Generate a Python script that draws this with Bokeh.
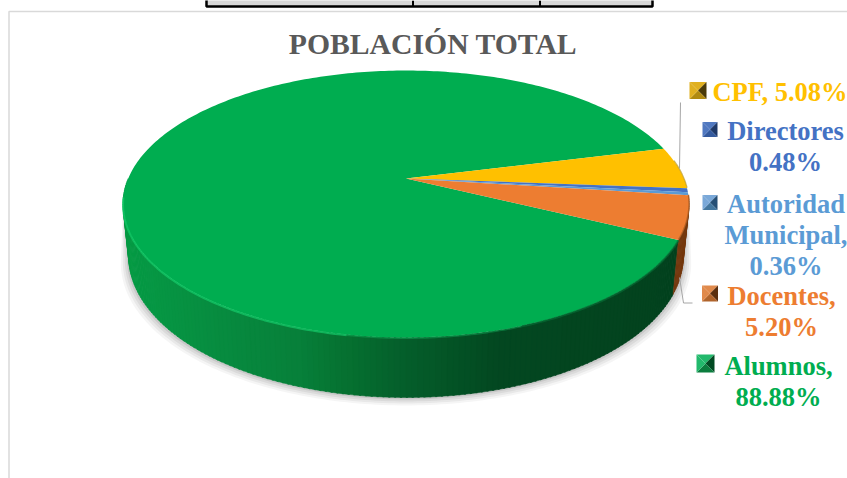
import math
from bokeh.plotting import figure
from bokeh.models import Range1d
from bokeh.embed import file_html
from bokeh.resources import INLINE
from bokeh.core.properties import value

categories = ["Alumnos", "CPF", "Directores", "Autoridad Municipal", "Docentes"]
values = [88.88, 5.08, 0.48, 0.36, 5.20]
colors = ["#00AD50", "#FFC000", "#4472C4", "#5B9BD5", "#ED7D31"]
side_dark = {"#ED7D31": "#74390F", "#FFC000": "#8A6A00", "#4472C4": "#2A4A80", "#5B9BD5": "#3A6A96"}
labels = [["Alumnos,", "88.88%"], ["CPF, 5.08%"], ["Directores", "0.48%"],
          ["Autoridad", "Municipal,", "0.36%"], ["Docentes,", "5.20%"]]
label_x = [778, 779.5, 785, 785.5, 781]
label_y = [365, 91, 130, 203, 295]
key_x = [705, 697.5, 709.5, 709.5, 709.5]
key_y = [363, 90, 129, 202, 293]
key_half = [9, 8.5, 7.5, 7.5, 8]
title_text = "POBLACIÓN TOTAL"

W, H = 847, 478
CX, CY, A, B, K, DEPTH = 405.5, 178.0, 277.8, 128.6, 0.191, 50.0
START = 14.0


def proj(t_deg, drop=0.0, grow=0.0):
    t = math.radians(t_deg)
    u, v = math.cos(t), math.sin(t)
    d = 1 + K * v
    x = CX + A * u / d
    y = CY - B * v / d + drop * (1 - 0.2 * v)
    x = CX + (x - CX) * (1 - 0.02 * drop / DEPTH) + grow * u
    return x, y + grow


def arc(a0, a1, drop=0.0, grow=0.0):
    n = max(2, int(abs(a1 - a0)) + 1)
    return [proj(a0 + (a1 - a0) * i / (n - 1), drop, grow) for i in range(n)]


def draw_patch(pts, **kw):
    p.patch([x for x, _ in pts], [y for _, y in pts], **kw)


def draw_line(pts, **kw):
    p.line([x for x, _ in pts], [y for _, y in pts], **kw)


p = figure(width=W, height=H, output_backend="svg", toolbar_location=None,
           x_range=Range1d(0, W), y_range=Range1d(H, 0), min_border=0,
           outline_line_color=None, styles={"position": "absolute", "left": "0px", "top": "0px"})
p.axis.visible = False
p.grid.visible = False
p.background_fill_color = "white"
p.border_fill_color = "white"

# chart frame and the table cut off above it
p.line([8.5, 8.5, 847], [478, 11, 11], line_color="#D9D9D9", line_width=1.5)
p.quad(left=[206], right=[652], top=[-3], bottom=[6], fill_color="#D9D9D9", line_color="#000000", line_width=2.5)
p.line([412.5, 412.5], [0, 6], line_color="#000000", line_width=2)
p.line([539.5, 539.5], [0, 6], line_color="#000000", line_width=2)

# soft shadow under the disc
for grow, alpha in [(8, 0.04), (6, 0.05), (4, 0.06), (2, 0.08)]:
    draw_patch(arc(190, 350, DEPTH, grow) + arc(350, 190, 0, 0), fill_color="#000000", fill_alpha=alpha, line_color=None)

# wedge angles follow from the values, clockwise from the start angle
total = sum(values)
bounds = {}
a = START
for i in [1, 2, 3, 4, 0]:
    b = a - 360.0 * values[i] / total
    bounds[i] = (a, b)
    a = b

GREEN_STOPS = [(122, (6, 156, 70)), (230, (8, 138, 63)), (300, (7, 128, 58)), (350, (6, 112, 48)),
               (400, (5, 96, 44)), (450, (4, 84, 38)), (500, (3, 72, 33)), (690, (3, 66, 30))]


def green_shade(x):
    for (x0, c0), (x1, c1) in zip(GREEN_STOPS, GREEN_STOPS[1:]):
        if x <= x1:
            f = max(0.0, (x - x0) / (x1 - x0))
            return "#%02x%02x%02x" % tuple(int(c0[j] + (c1[j] - c0[j]) * f) for j in range(3))
    return "#%02x%02x%02x" % GREEN_STOPS[-1][1]


# side wall in narrow strips: green part first, then the orange piece at its right
doc_end = bounds[4][1]
for lo, hi, idx in [(-180.0, doc_end, 0), (doc_end, bounds[4][0], 4)]:
    t = lo
    while t < hi:
        t2 = min(t + 1.3, hi)
        x0, y0 = proj(t)
        x1, y1 = proj(t2)
        x2, y2 = proj(t2, DEPTH)
        x3, y3 = proj(t, DEPTH)
        col = green_shade((x0 + x1) / 2) if idx == 0 else side_dark[colors[idx]]
        p.patch([x0, x1, x2, x3], [y0, y1, y2, y3], fill_color=col, line_color=col, line_width=0.5)
        t += 1.0

# top faces
for i in [0, 1, 2, 3, 4]:
    a0, b0 = bounds[i]
    draw_patch([(CX, CY)] + arc(a0, b0), fill_color=colors[i], line_color=None)

# rim: bright bevel on the left, soft transition on the right
draw_line(arc(-172, -100, 0.6), line_color="#14CC6A", line_width=2, line_alpha=0.7)
draw_line(arc(-100, -70, 0.6), line_color="#14CC6A", line_width=1.5, line_alpha=0.35)
draw_line(arc(-70, doc_end, 0.5), line_color="#056B33", line_width=2, line_alpha=0.7)
draw_line(arc(doc_end, bounds[4][0], -0.5), line_color="#A85A20", line_width=1.5, line_alpha=0.7)
draw_line(arc(bounds[1][0] - 6, bounds[1][1], -0.5), line_color="#B08800", line_width=1.2, line_alpha=0.6)

# leader lines
p.line([680, 679], [102, 168], line_color="#A6A6A6", line_width=1)
p.line([679, 683, 692], [277, 302.5, 302.5], line_color="#A6A6A6", line_width=1)

# title
p.text([432.5], [43.5], text=[title_text], text_font=value("Liberation Serif"), text_font_style="bold",
       text_font_size="29.7px", text_color="#595959", text_align="center", text_baseline="middle")

# legend keys and data labels
KEY_DARK = {"#00AD50": "#014A22", "#FFC000": "#4A3A08", "#4472C4": "#1E3868", "#5B9BD5": "#264F75", "#ED7D31": "#5A2F10"}
KEY_LIGHT = {"#00AD50": "#22B96C", "#FFC000": "#E0B020", "#4472C4": "#5078C0", "#5B9BD5": "#7AA8D8", "#ED7D31": "#E08A4C"}
KEY_MID = {"#00AD50": "#0B7D3E", "#FFC000": "#B08A10", "#4472C4": "#345A9E", "#5B9BD5": "#44779F", "#ED7D31": "#B0642C"}
for i, lines in enumerate(labels):
    x, y, s = key_x[i], key_y[i], key_half[i]
    tl, tr, br, bl = (x - s, y - s), (x + s, y - s), (x + s, y + s), (x - s, y + s)
    faces = [(tl, tr, KEY_LIGHT), (tr, br, KEY_DARK), (br, bl, KEY_MID), (bl, tl, KEY_LIGHT)]
    for f0, f1, shades in faces:
        p.patch([f0[0], f1[0], x], [f0[1], f1[1], y], fill_color=shades[colors[i]], line_color=None)
    for j, line in enumerate(lines):
        p.text([label_x[i]], [label_y[i] + j * 31], text=[line], text_font=value("Liberation Serif"),
               text_font_style="bold", text_font_size="26.5px", text_color=colors[i],
               text_align="center", text_baseline="middle")

open("out.html", "w").write(file_html(p, INLINE))
